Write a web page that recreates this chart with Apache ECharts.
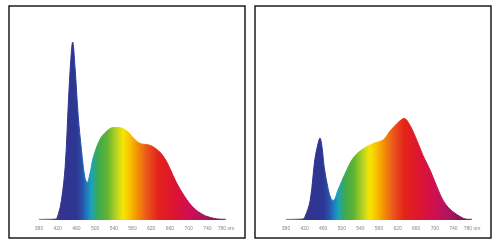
<!DOCTYPE html>
<html>
<head>
<meta charset="utf-8">
<script src="https://cdn.jsdelivr.net/npm/echarts@6/dist/echarts.min.js"></script>
<style>
html,body{margin:0;padding:0;background:#fff;}
#c{width:500px;height:247px;}
</style>
</head>
<body>
<div id="c"></div>
<script>
// Wavelength ticks (nm)
const tickValues = [380, 420, 460, 500, 540, 580, 620, 660, 700, 740, 780];
const tickLabels = ['380', '420', '460', '500', '540', '580', '620', '660', '700', '740', '780 nm'];

// Left spectrum (relative intensity)
const leftWavelengths = [380, 400, 415, 421, 428, 436, 443, 448, 452, 457, 464, 471, 478, 483, 489, 496, 510, 525, 540, 550, 568, 582, 596, 617, 635, 648, 660, 674, 692, 710, 731, 753, 770, 780];
const leftValues      = [0.4, 0.4, 0.5, 3,   11,  30,  67,  90,  100, 86,  58,  39,  24,  21,  26,  35,  45,  50,  52,  52,  50,  46,  43,  42,  39,  35,  29,  21,  13,  7,   3,   1,   0.4, 0.4];

// Right spectrum (relative intensity)
const rightWavelengths = [380, 400, 415, 421, 432, 442, 449, 453, 458, 462, 471, 477, 482, 492, 507, 525, 546, 568, 589, 604, 622, 634, 647, 661, 675, 690, 704, 718, 733, 754, 770, 780];
const rightValues      = [0.4, 0.4, 0.5, 2,   11,  34,  43,  46,  40,  30,  17,  12,  11,  17,  26,  35,  40,  43,  45,  50,  55,  57,  53,  45,  36,  28,  19,  11,  6,   2,   0.4, 0.4];

const spectrumStops = [
  [380, '#9a9a9a'], [415, '#474a70'], [425, '#34338e'], [460, '#2c3794'],
  [472, '#2b4fa8'], [482, '#1e78c0'], [492, '#1aa3b8'], [505, '#3aaa55'],
  [525, '#5cb333'], [548, '#c2d620'], [560, '#f6e600'], [575, '#f9c000'],
  [590, '#f39200'], [610, '#ea581d'], [635, '#e3231b'], [670, '#dc1433'],
  [700, '#cf0f52'], [735, '#a6175e'], [765, '#6a1a52'], [780, '#3d1a40']
];

function gradient() {
  return new echarts.graphic.LinearGradient(0, 0, 1, 0,
    spectrumStops.map(s => ({ offset: (s[0] - 380) / 400, color: s[1] })));
}

function pairs(xs, ys) { return xs.map((x, i) => [x, ys[i]]); }

const chart = echarts.init(document.getElementById('c'), null, { renderer: 'canvas' });

function xAxisFor(gi) {
  return {
    type: 'value', gridIndex: gi, min: 380, max: 780, interval: 40,
    axisLine: { show: false }, axisTick: { show: false }, splitLine: { show: false },
    axisLabel: {
      fontSize: 5, color: '#888', margin: 6, fontFamily: 'Arial, Liberation Sans, sans-serif',
      formatter: v => tickLabels[tickValues.indexOf(v)] || ''
    }
  };
}
function yAxisFor(gi) {
  return { type: 'value', gridIndex: gi, min: 0, max: 100, show: false, splitLine: { show: false } };
}
function seriesFor(gi, xs, ys) {
  return {
    type: 'line', xAxisIndex: gi, yAxisIndex: gi, smooth: 0.35, symbol: 'none',
    data: pairs(xs, ys),
    lineStyle: { width: 1, color: gradient() },
    areaStyle: { color: gradient(), opacity: 1 },
    silent: true
  };
}

chart.setOption({
  animation: false,
  backgroundColor: '#fff',
  grid: [
    { left: 39, width: 187, top: 42, bottom: 27 },
    { left: 286, width: 186, top: 42, bottom: 27 }
  ],
  xAxis: [xAxisFor(0), xAxisFor(1)],
  yAxis: [yAxisFor(0), yAxisFor(1)],
  series: [
    seriesFor(0, leftWavelengths, leftValues),
    seriesFor(1, rightWavelengths, rightValues)
  ],
  graphic: [
    { type: 'rect', shape: { x: 9, y: 6, width: 236, height: 232 }, style: { fill: 'none', stroke: '#1e1e1e', lineWidth: 1.5 }, z: 100 },
    { type: 'rect', shape: { x: 255, y: 6, width: 236, height: 232 }, style: { fill: 'none', stroke: '#1e1e1e', lineWidth: 1.5 }, z: 100 }
  ]
});
</script>
</body>
</html>
